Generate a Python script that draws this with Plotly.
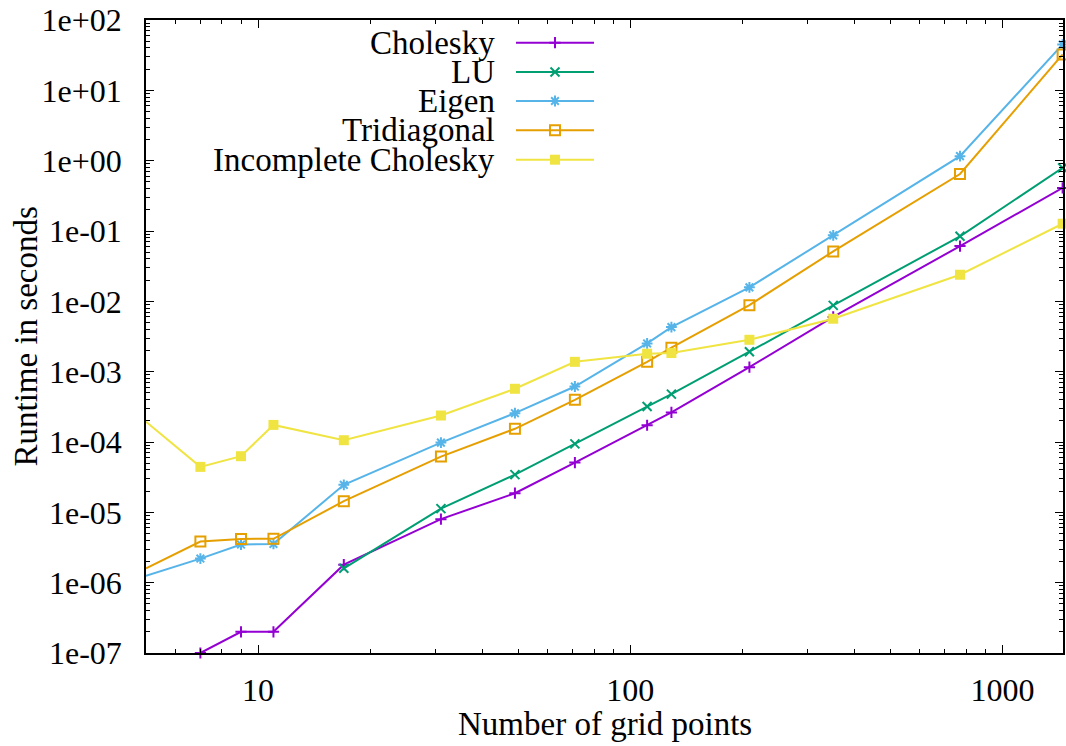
import math
import plotly.graph_objects as go

# ---------------- data ----------------
grid_points = [5, 7, 9, 11, 17, 31, 49, 71, 111, 129, 209, 351, 769, 1451]

cholesky = [None, 1.0e-7, 2.0e-7, 2.0e-7, 1.8e-6, 8.0e-6, 1.87e-5, 5.1e-5,
            1.73e-4, 2.63e-4, 1.16e-3, 6.0e-3, 6.1e-2, 0.41]
lu = [None, None, None, None, 1.6e-6, 1.13e-5, 3.44e-5, 9.4e-5,
      3.2e-4, 4.8e-4, 1.92e-3, 8.75e-3, 8.4e-2, 0.79]
eigen = [1.25e-6, 2.2e-6, 3.48e-6, 3.55e-6, 2.46e-5, 9.8e-5, 2.57e-4, 6.15e-4,
         2.52e-3, 4.3e-3, 1.58e-2, 8.67e-2, 1.16, 44.8]
tridiagonal = [1.6e-6, 3.84e-6, 4.19e-6, 4.2e-6, 1.44e-5, 6.2e-5, 1.54e-4, 3.98e-4,
               1.38e-3, 2.19e-3, 8.83e-3, 5.13e-2, 0.646, 32.3]
incomplete_cholesky = [1.94e-4, 4.43e-5, 6.28e-5, 1.75e-4, 1.06e-4, 2.38e-4, 5.71e-4, 1.38e-3,
                       1.80e-3, 1.84e-3, 2.84e-3, 5.66e-3, 2.39e-2, 0.127]

series_names = ["Cholesky", "LU", "Eigen", "Tridiagonal", "Incomplete Cholesky"]
series_values = [cholesky, lu, eigen, tridiagonal, incomplete_cholesky]

y_tickvals = [1e-7, 1e-6, 1e-5, 1e-4, 1e-3, 1e-2, 1e-1, 1e0, 1e1, 1e2]
y_ticktext = ["1e-07", "1e-06", "1e-05", "1e-04", "1e-03", "1e-02", "1e-01",
              "1e+00", "1e+01", "1e+02"]
x_tickvals = [10, 100, 1000]
x_ticktext = ["10", "100", "1000"]

x_title = "Number of grid points"
y_title = "Runtime in seconds"

# ---------------- style ----------------
colors = ["#9400d3", "#009e73", "#56b4e9", "#e69f00", "#f0e442"]
symbols = ["cross-thin-open", "x-thin-open", "asterisk-open", "square-open", "square"]
sizes = [8, 9, 9, 10, 10]
FONT = "Liberation Serif, Times New Roman, serif"
TICK_FS = 32
TEXT_FS = 33

# plot-area geometry (pixels)
W, H = 1066, 746
ML, MR, MT, MB = 146, 3, 20, 93
PW, PH = W - ML - MR, H - MT - MB


def px_to_paper_x(px):
    return (px - ML) / PW


def px_to_paper_y(py):
    return 1 - (py - MT) / PH


fig = go.Figure()

for name, vals, col, sym, sz in zip(series_names, series_values, colors, symbols, sizes):
    filled = sym == "square"
    fig.add_trace(go.Scatter(
        x=grid_points, y=vals, name=name, mode="lines+markers",
        line=dict(color=col, width=2),
        marker=dict(symbol=sym, size=sz, color=col,
                    line=dict(color=col, width=0 if filled else 2)),
        cliponaxis=False, showlegend=False,
    ))

# ---- gnuplot-style legend (text right-aligned, sample to the right) ----
legend_rows_px = [42.7, 72.0, 101.0, 130.3, 159.7]
legend_rows = [px_to_paper_y(p) for p in legend_rows_px]
leg_x0, leg_xm, leg_x1 = px_to_paper_x(516), px_to_paper_x(555), px_to_paper_x(594)
leg_text_x = px_to_paper_x(497)
annotations = []
for name, col, sym, sz, ry in zip(series_names, colors, symbols, sizes, legend_rows):
    filled = sym == "square"
    fig.add_trace(go.Scatter(
        x=[leg_x0, leg_x1], y=[ry, ry], xaxis="x2", yaxis="y2", mode="lines",
        line=dict(color=col, width=2), showlegend=False, hoverinfo="skip"))
    fig.add_trace(go.Scatter(
        x=[leg_xm], y=[ry], xaxis="x2", yaxis="y2", mode="markers",
        marker=dict(symbol=sym, size=sz, color=col,
                    line=dict(color=col, width=0 if filled else 2)),
        showlegend=False, hoverinfo="skip", cliponaxis=False))
    annotations.append(dict(
        x=leg_text_x, y=ry, xref="paper", yref="paper", text=name,
        showarrow=False, xanchor="right", yanchor="middle",
        font=dict(family=FONT, size=TEXT_FS, color="black")))

# axis titles
annotations.append(dict(
    x=0.5, y=px_to_paper_y(724), xref="paper", yref="paper", text=x_title,
    showarrow=False, xanchor="center", yanchor="middle",
    font=dict(family=FONT, size=TEXT_FS, color="black")))
annotations.append(dict(
    x=px_to_paper_x(25), y=0.5, xref="paper", yref="paper", text=y_title,
    showarrow=False, xanchor="center", yanchor="middle", textangle=-90,
    font=dict(family=FONT, size=TEXT_FS, color="black")))

# minor ticks (2..9 in every decade)
x_minor = [m * 10 ** k for k in range(0, 4) for m in range(2, 10)]
y_minor = [m * 10.0 ** k for k in range(-7, 2) for m in range(2, 10)]

axis_common = dict(
    showline=True, linecolor="black", linewidth=1.5, mirror="ticks",
    ticks="inside", ticklen=8, tickwidth=1.2, tickcolor="black",
    showgrid=False, zeroline=False, automargin=False,
    tickfont=dict(family=FONT, size=TICK_FS, color="black"),
)

fig.update_layout(
    width=W, height=H,
    margin=dict(l=ML, r=MR, t=MT, b=MB, autoexpand=False),
    paper_bgcolor="white", plot_bgcolor="white",
    font=dict(family=FONT, size=TICK_FS, color="black"),
    xaxis=dict(
        type="log",
        range=[math.log10(min(grid_points)), math.log10(max(grid_points)) + 0.001],
        tickmode="array", tickvals=x_tickvals, ticktext=x_ticktext,
        minor=dict(tickmode="array", tickvals=x_minor, ticks="inside", ticklen=4,
                   tickwidth=1, tickcolor="black"),
        ticklabelstandoff=8,
        **axis_common,
    ),
    yaxis=dict(
        type="log", range=[-7, 2],
        tickmode="array", tickvals=y_tickvals, ticktext=y_ticktext,
        minor=dict(tickmode="array", tickvals=y_minor, ticks="inside", ticklen=4,
                   tickwidth=1, tickcolor="black"),
        ticklabelstandoff=16,
        **axis_common,
    ),
    xaxis2=dict(domain=[0, 1], range=[0, 1], overlaying="x", anchor="y2", visible=False),
    yaxis2=dict(domain=[0, 1], range=[0, 1], overlaying="y", anchor="x2", visible=False),
    annotations=annotations,
    showlegend=False,
)

fig.write_html(
    "out.html",
    config={"displayModeBar": False},
    post_script="document.body.style.margin='0';document.body.style.overflow='hidden';",
)
